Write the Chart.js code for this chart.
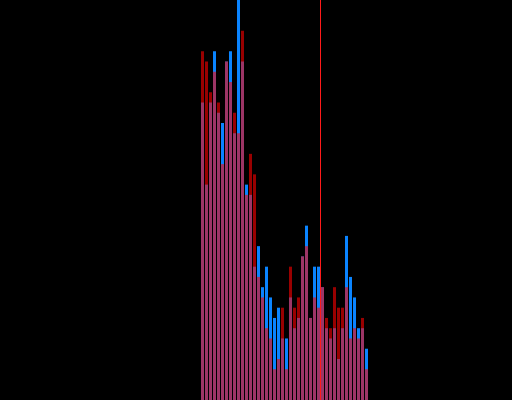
<!DOCTYPE html>
<html>
<head>
<meta charset="utf-8">
<script src="https://cdn.jsdelivr.net/npm/chart.js@4"></script>
<style>
  html, body { margin: 0; padding: 0; background: #000; }
  #wrap { width: 512px; height: 400px; }
</style>
</head>
<body>
<div id="wrap"><canvas id="chart" width="512" height="400"></canvas></div>
<script>
// posições dos bins no eixo x
const positions = [1, 2, 3, 4, 5, 6, 7, 8, 9, 10, 11, 12, 13, 14, 15, 16, 17, 18, 19, 20, 21,
                   22, 23, 24, 25, 26, 27, 28, 29, 30, 31, 32, 33, 34, 35, 36, 37, 38, 39, 40, 41, 42];

// série azul
const blueValues = [29, 21, 29, 34, 28, 27, 33, 34, 26, 39, 33, 21, 20, 13, 15, 11, 13, 10, 8, 9, 6,
                    6, 10, 7, 8, 14, 17, 8, 13, 13, 11, 7, 6, 7, 4, 7, 16, 12, 10, 7, 7, 5];

// série vermelha (desenhada por cima, semitransparente)
const redValues = [34, 33, 30, 32, 29, 23, 33, 31, 28, 26, 36, 20, 24, 22, 12, 10, 7, 6, 3, 4, 9,
                   3, 13, 9, 10, 14, 15, 8, 10, 9, 11, 8, 7, 11, 9, 9, 11, 6, 7, 6, 8, 3];

// linha vertical de referência
const markerX = 30.5;

// limites dos eixos
const xMin = -49.625;
const xMax = 78.375;
const yMax = 39;

document.addEventListener('DOMContentLoaded', function() {
    const toPoints = values => positions.map((x, i) => ({ x: x, y: values[i] }));

    new Chart(document.getElementById('chart'), {
        type: 'bar',
        data: {
            datasets: [
                {
                    type: 'line',
                    data: [{ x: markerX, y: 0 }, { x: markerX, y: yMax }],
                    borderColor: '#ff1a1a',
                    borderWidth: 1,
                    pointRadius: 0,
                    order: 0
                },
                {
                    data: toPoints(redValues),
                    backgroundColor: 'rgba(255, 0, 0, 0.6)',
                    borderWidth: 0,
                    order: 1
                },
                {
                    data: toPoints(blueValues),
                    backgroundColor: '#0a84ff',
                    borderWidth: 0,
                    order: 2
                }
            ]
        },
        options: {
            responsive: false,
            animation: false,
            devicePixelRatio: 1,
            layout: { padding: 0 },
            datasets: {
                bar: {
                    grouped: false,
                    barPercentage: 0.75,
                    categoryPercentage: 1
                }
            },
            plugins: {
                legend: { display: false },
                tooltip: { enabled: false }
            },
            scales: {
                x: { type: 'linear', min: xMin, max: xMax, offset: false, display: false },
                y: { min: 0, max: yMax, display: false }
            }
        }
    });
});
</script>
</body>
</html>
